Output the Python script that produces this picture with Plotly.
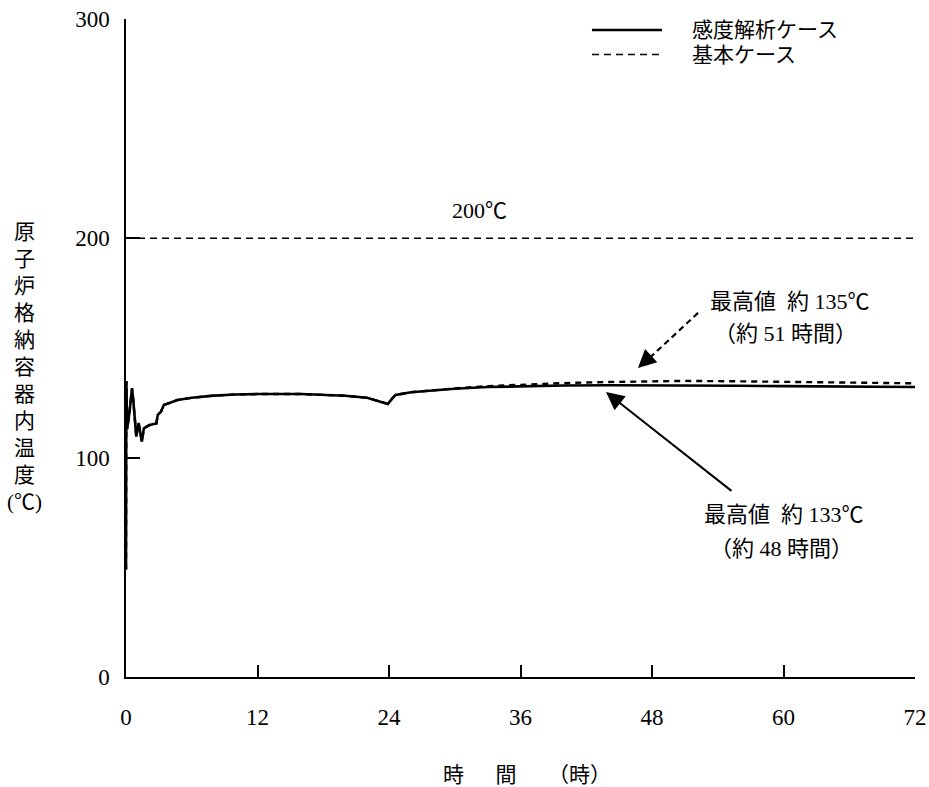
import plotly.graph_objects as go

# --- data -------------------------------------------------------------
# sensitivity case (solid)
sens_t = [0, 0.03, 0.1, 0.3, 0.55, 0.65, 0.94, 1.15, 1.45, 1.63, 2.16, 2.77, 2.9,
          3.2, 3.45, 4.7, 6, 8, 10, 12, 16, 20, 22, 23, 23.9, 24.3, 24.6, 26, 28,
          30, 33, 36, 40, 44, 48, 52, 56, 60, 66, 72]
sens_T = [49, 135, 113, 120, 131.6, 127, 109.6, 115.8, 107.3, 113.4, 114.9, 115.6, 119.5,
          121, 124, 126.3, 127.3, 128.3, 128.8, 129, 129, 128.2, 127.3, 126, 124.5, 127,
          128.6, 129.8, 130.7, 131.4, 132.2, 132.6, 132.9, 133, 133, 132.9, 132.8, 132.6,
          132.4, 132.2]

# base case (dashed)
base_t = [0, 0.03, 0.1, 0.3, 0.55, 0.65, 0.94, 1.15, 1.45, 1.63, 2.16, 2.77, 2.9,
          3.2, 3.45, 4.7, 6, 8, 10, 12, 16, 20, 22, 23, 23.9, 24.3, 24.6, 26, 28,
          30, 33, 36, 40, 44, 48, 51, 56, 60, 66, 72]
base_T = [49, 135, 113, 120, 131.6, 127, 109.6, 115.8, 107.3, 113.4, 114.9, 115.6, 119.5,
          121, 124, 126.3, 127.3, 128.3, 128.8, 129, 129, 128.2, 127.3, 126, 124.5, 127,
          128.6, 129.8, 130.8, 131.6, 132.6, 133.3, 134.0, 134.5, 134.9, 135.0, 134.8,
          134.6, 134.2, 133.9]

limit_T = 200
x_ticks = [0, 12, 24, 36, 48, 60, 72]
y_ticks = [0, 100, 200, 300]
y_title_chars = ["原", "子", "炉", "格", "納", "容", "器", "内", "温", "度", "(℃)"]

FONT = "Liberation Serif, Noto Sans CJK JP, serif"
TXT = dict(family=FONT, size=22, color="black")

fig = go.Figure()
fig.add_trace(go.Scatter(x=base_t, y=base_T, mode="lines",
                         line=dict(color="black", width=2.4, dash="6px,5px"),
                         showlegend=False))
fig.add_trace(go.Scatter(x=sens_t, y=sens_T, mode="lines",
                         line=dict(color="black", width=2.6),
                         showlegend=False))
fig.add_trace(go.Scatter(x=[0, 72], y=[limit_T, limit_T], mode="lines",
                         line=dict(color="black", width=1.5, dash="7px,5px"),
                         showlegend=False))

# legend drawn by hand
fig.add_shape(type="line", xref="paper", yref="paper", x0=0.5906, x1=0.6793,
              y0=0.9833, y1=0.9833, line=dict(color="black", width=2.4))
fig.add_shape(type="line", xref="paper", yref="paper", x0=0.5906, x1=0.6793,
              y0=0.946, y1=0.946, line=dict(color="black", width=1.6, dash="7px,5px"))
fig.add_annotation(text="感度解析ケース", xref="paper", yref="paper", x=0.7148, y=0.9833,
                   xanchor="left", yanchor="middle", showarrow=False,
                   font=dict(family=FONT, size=21, color="black"))
fig.add_annotation(text="基本ケース", xref="paper", yref="paper", x=0.7148, y=0.946,
                   xanchor="left", yanchor="middle", showarrow=False,
                   font=dict(family=FONT, size=21, color="black"))

# limit label
fig.add_annotation(text="200℃", x=32.3, y=212.9, showarrow=False, font=TXT)

# peak labels
for txt, x, y in [("最高値\u00a0\u00a0約 135℃", 60.6, 171.0), ("（約 51 時間）", 60.2, 156.8),
                  ("最高値\u00a0\u00a0約 133℃", 60.0, 74.3), ("（約 48 時間）", 59.8, 58.8)]:
    fig.add_annotation(text=txt, x=x, y=y, showarrow=False, font=TXT)

# dashed arrow (base case peak)
fig.add_shape(type="line", x0=52.2, y0=166.0, x1=47.9, y1=146.0,
              line=dict(color="black", width=2.2, dash="6px,4px"))
fig.add_annotation(x=46.72, y=140.9, ax=14, ay=-13, text="", showarrow=True,
                   arrowhead=2, arrowsize=1.8, arrowwidth=2, arrowcolor="black")
# solid arrow (sensitivity case peak)
fig.add_annotation(x=43.8, y=129.9, ax=127, ay=100, text="", showarrow=True,
                   arrowhead=2, arrowsize=1.8, arrowwidth=2, arrowcolor="black")

# vertical y-axis title
y0_px, pitch = 232, 27.0
for i, ch in enumerate(y_title_chars):
    py = y0_px + i * pitch
    fig.add_annotation(text=ch, xref="paper", yref="paper", x=(24 - 126) / 789,
                       y=(677 - py) / 658, showarrow=False, xanchor="center",
                       yanchor="middle", font=dict(family=FONT, size=21, color="black"))

# x-axis title
fig.add_annotation(text="時\u3000\u00a0\u00a0間\u3000\u00a0\u00a0（時）", xref="paper", yref="paper",
                   x=(527 - 126) / 789, y=-0.149,
                   showarrow=False, xanchor="center", yanchor="middle",
                   font=dict(family=FONT, size=21, color="black"))

fig.update_xaxes(range=[0, 72], tickvals=x_ticks, ticktext=[str(v) for v in x_ticks],
                 ticks="inside", ticklen=12, tickwidth=1.5, tickcolor="black",
                 showline=True, linecolor="black", linewidth=1.5, showgrid=False,
                 zeroline=False, ticklabelstandoff=19, automargin=False,
                 tickfont=dict(family=FONT, size=23, color="black"))
fig.update_yaxes(range=[0, 300], tickvals=y_ticks, ticktext=[str(v) for v in y_ticks],
                 ticks="inside", ticklen=14, tickwidth=1.5, tickcolor="black",
                 showline=True, linecolor="black", linewidth=1.5, showgrid=False,
                 zeroline=False, ticklabelstandoff=10, automargin=False,
                 tickfont=dict(family=FONT, size=23, color="black"))

fig.update_layout(width=929, height=787, margin=dict(l=126, r=14, t=19, b=110),
                  paper_bgcolor="white", plot_bgcolor="white", showlegend=False,
                  font=dict(family=FONT, color="black"))

fig.write_html("out.html")
